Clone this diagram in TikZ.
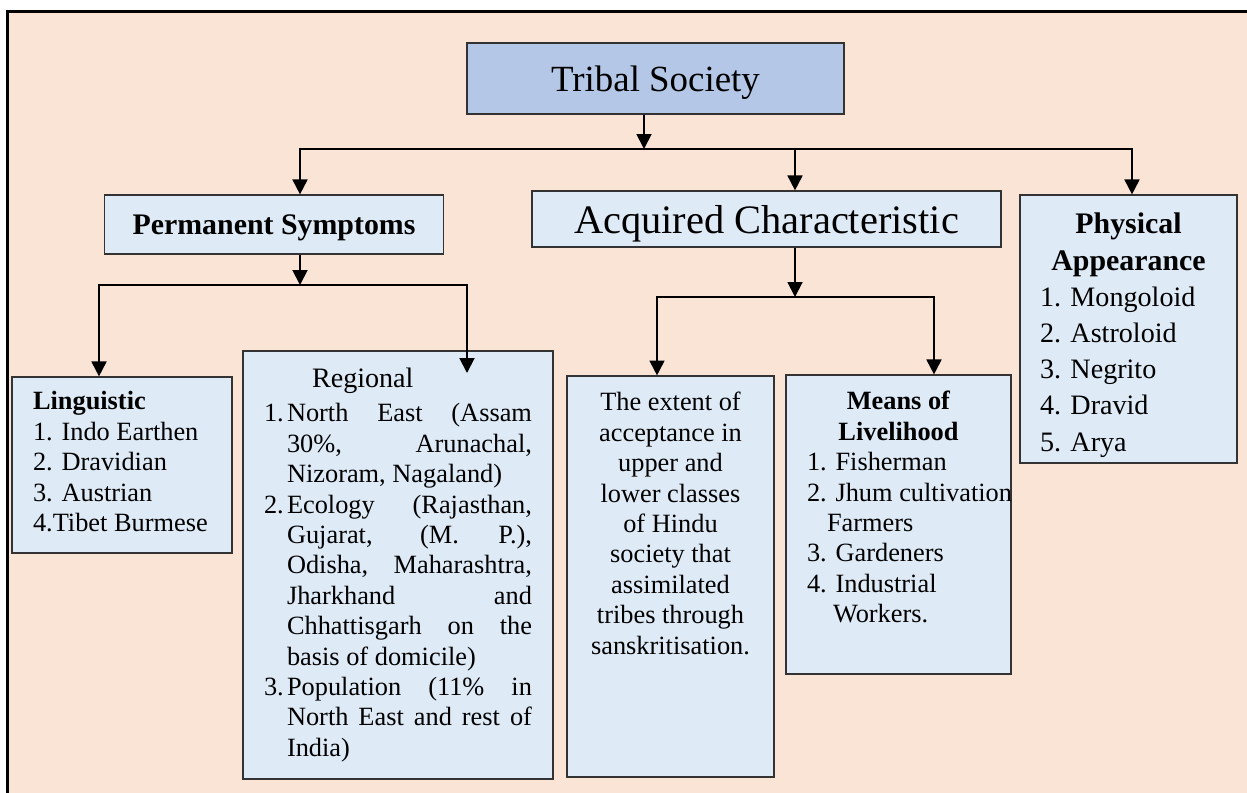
\documentclass[tikz,border=0pt]{standalone}
\usepackage{fontspec}
\setmainfont{Liberation Serif}
\usetikzlibrary{arrows.meta,positioning}
\definecolor{peach}{HTML}{FAE4D6}
\definecolor{paleblue}{HTML}{DEEAF6}
\definecolor{titleblue}{HTML}{B4C7E7}
% fixed size text panel: width, height, body
\newcommand{\panel}[3]{\parbox[c][#2][t]{#1}{#3}}
\newcommand{\txt}{\fontsize{15}{17.3}\selectfont}

\begin{document}
\begin{tikzpicture}
[x=0.02cm,y=-0.02cm,
 b/.style={draw=black!80,line width=0.7pt,fill=paleblue,inner sep=0pt},
 head/.style={b,text depth=0pt},
 arr/.style={line width=1.1pt,-{Triangle[width=8.5pt,length=8.5pt]}},
 bar/.style={line width=1.1pt,line cap=rect}]
\useasboundingbox (0,0) rectangle (1247,792);
\clip (0,0) rectangle (1247,792);
\fill[white] (0,0) rectangle (1247,792);
\draw[line width=1.7pt,fill=peach] (7.5,11.7) rectangle (1300,850);

\node[head,fill=titleblue,minimum width=7.54cm,minimum height=1.42cm,font=\fontsize{21}{24}\selectfont] (tribal) at (655.5,78.5) {Tribal Society};
\node[head,minimum width=6.78cm,minimum height=1.18cm,font=\fontsize{17}{20}\selectfont\bfseries] (perm) at (274,224.5) {Permanent Symptoms};
\node[head,minimum width=9.38cm,minimum height=1.12cm,font=\fontsize{23}{26}\selectfont] (acq) at (766.5,219) {Acquired Characteristic};

\node[b] (phys) at (1128.5,329) {\panel{4.34cm}{5.36cm}{\fontsize{16}{20.6}\selectfont\vspace*{0.27cm}%
  \begin{tabular}[t]{@{}l@{}}
  \makebox[4.34cm]{\fontsize{17}{20.6}\selectfont\bfseries Physical}\\
  \makebox[4.34cm]{\fontsize{17}{20.6}\selectfont\bfseries Appearance}\\
  \hspace*{0.4cm}1. Mongoloid\\
  \hspace*{0.4cm}2. Astroloid\\
  \hspace*{0.4cm}3. Negrito\\
  \hspace*{0.4cm}4. Dravid\\
  \hspace*{0.4cm}5. Arya
  \end{tabular}}};

\node[b] (ling) at (122,465) {\panel{4.4cm}{3.52cm}{\txt\vspace*{0.233cm}\hspace*{0.42cm}%
  \begin{tabular}[t]{@{}l@{}}
  \textbf{Linguistic}\\
  1. Indo Earthen\\
  2. Dravidian\\
  3. Austrian\\
  4.Tibet Burmese
  \end{tabular}}};

\node[b] (reg) at (398,565) {\panel{6.2cm}{8.56cm}{\txt\vspace*{0.313cm}\hspace*{0.42cm}%
  \begin{tabular}[t]{@{}p{0.46cm}@{}p{4.9cm}@{}}
  \multicolumn{2}{@{}l@{}}{\hspace*{0.96cm}\fontsize{16}{17.3}\selectfont Regional}\\[2pt]
  1. & North East (Assam\linebreak 30\%, Arunachal,\linebreak Nizoram, Nagaland)\\
  2. & Ecology (Rajasthan,\linebreak Gujarat, (M. P.),\linebreak Odisha, Maharashtra,\linebreak Jharkhand and\linebreak Chhattisgarh on the\linebreak basis of domicile)\\
  3. & Population (11\% in\linebreak North East and rest of\linebreak India)
  \end{tabular}}};

\node[b] (ext) at (670.5,576.5) {\panel{4.14cm}{8.02cm}{\txt\centering\vspace*{0.273cm}%
  \begin{tabular}[t]{@{}c@{}}
  The extent of\\ acceptance in\\ upper and\\ lower classes\\ of Hindu\\
  society that\\ assimilated\\ tribes through\\ sanskritisation.
  \end{tabular}}};

\node[b] (means) at (898.5,524.5) {\panel{4.5cm}{5.98cm}{\txt\vspace*{0.273cm}%
  \begin{tabular}[t]{@{}l@{}}
  \makebox[4.5cm]{\textbf{Means of}}\\
  \makebox[4.5cm]{\textbf{Livelihood}}\\
  \hspace*{0.42cm}1. Fisherman\\
  \hspace*{0.42cm}2. Jhum cultivation\\
  \hspace*{0.82cm}Farmers\\
  \hspace*{0.42cm}3. Gardeners\\
  \hspace*{0.42cm}4. Industrial\\
  \hspace*{0.94cm}Workers.
  \end{tabular}}};

% top level split
\coordinate (hub) at (644,149);
\coordinate (busL) at (300,149);
\coordinate (busM) at (795,149);
\coordinate (busR) at (1132,149);
\draw[bar] (busL) -- (busR);
\draw[arr] (tribal.south -| hub) -- (hub);
\draw[arr] (busL) -- (busL |- perm.north);
\draw[arr] (busM) -- (busM |- acq.north);
\draw[arr] (busR) -- (busR |- phys.north);

% permanent symptoms
\coordinate (pHub) at (300,285);
\coordinate (pL) at (99,285);
\coordinate (pR) at (467,285);
\coordinate (regTip) at (467,373);
\draw[bar] (pL) -- (pR);
\draw[arr] (perm.south -| pHub) -- (pHub);
\draw[arr] (pL) -- (pL |- ling.north);
\draw[arr] (pR) -- (regTip);

% acquired characteristic
\coordinate (aHub) at (795,297);
\coordinate (aL) at (657,297);
\coordinate (aR) at (934,297);
\draw[bar] (aL) -- (aR);
\draw[arr] (acq.south -| aHub) -- (aHub);
\draw[arr] (aL) -- (aL |- ext.north);
\draw[arr] (aR) -- (aR |- means.north);
\end{tikzpicture}
\end{document}
